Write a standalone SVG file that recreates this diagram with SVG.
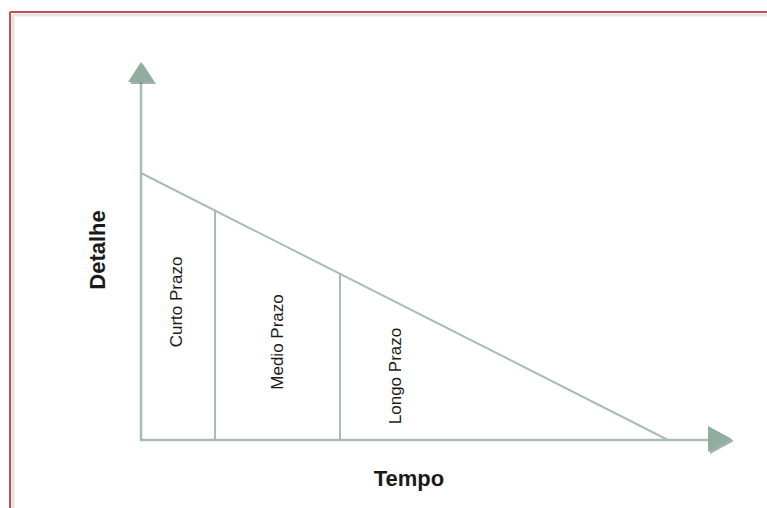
<svg xmlns="http://www.w3.org/2000/svg" width="767" height="508" viewBox="0 0 767 508">
  <defs>
    <style>
      .frame { stroke: #c4504e; stroke-width: 2; fill: none; }
      .shade { stroke: #e4e4e4; stroke-width: 3; fill: none; }
      .axis { stroke: #a9bcb4; stroke-width: 2.5; fill: none; }
      .div { stroke: #a9bcb4; stroke-width: 2; fill: none; }
      .head { fill: #8fae9f; }
      .headshadow { fill: #5f6f68; opacity: 0.55; }
      .lbl { font-family: "Liberation Sans", Arial, sans-serif; font-size: 17px; fill: #1a1a1a; text-anchor: middle; }
      .title { font-family: "Liberation Sans", Arial, sans-serif; font-size: 22px; font-weight: bold; fill: #1a1a1a; text-anchor: middle; }
    </style>
  </defs>
  <rect width="767" height="508" fill="#ffffff"/>

  <!-- page frame -->
  <g id="frame">
    <path class="shade" d="M13 15 H767 M13 15 V508"/>
    <path class="frame" d="M10 12 H767 M10 12 V508"/>
  </g>

  <!-- axes, slope and period dividers -->
  <g id="connectors">
    <line class="axis" x1="141" y1="80" x2="141" y2="440"/>
    <line class="axis" x1="140" y1="440" x2="710" y2="440"/>
    <line class="div" x1="141" y1="173" x2="668" y2="440"/>
    <line class="div" x1="215" y1="211" x2="215" y2="440"/>
    <line class="div" x1="340" y1="273" x2="340" y2="440"/>
    <polygon class="headshadow" points="143,64 156,84 130,84"/>
    <polygon class="head" points="141,62 154,82 128,82"/>
    <polygon class="headshadow" points="710,428 734,441 710,454"/>
    <polygon class="head" points="708,426 732,439 708,452"/>
  </g>

  <g id="axis-y-label">
    <text class="title" transform="translate(105,250) rotate(-90)">Detalhe</text>
  </g>
  <g id="axis-x-label">
    <text class="title" x="409" y="486">Tempo</text>
  </g>
  <g id="curto">
    <text class="lbl" transform="translate(182,302) rotate(-90)">Curto Prazo</text>
  </g>
  <g id="medio">
    <text class="lbl" transform="translate(283,342) rotate(-90)">Medio Prazo</text>
  </g>
  <g id="longo">
    <text class="lbl" transform="translate(401,376) rotate(-90)">Longo Prazo</text>
  </g>
</svg>
